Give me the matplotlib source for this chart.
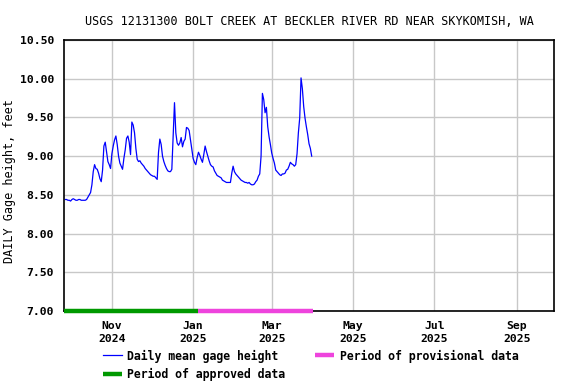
#!/usr/bin/env python3
"""USGS daily gage height hydrograph, Bolt Creek."""

import numpy as np
import pandas as pd
import matplotlib
matplotlib.use("Agg")
import matplotlib.pyplot as plt
import matplotlib.dates as mdates

start_date = "2024-09-27"
gage_height = [
    8.44, 8.44, 8.43, 8.43, 8.42, 8.44, 8.45, 8.44, 8.43, 8.43,
    8.44, 8.44, 8.43, 8.43, 8.43, 8.43, 8.44, 8.47, 8.50, 8.53,
    8.63, 8.80, 8.89, 8.84, 8.83, 8.78, 8.71, 8.67, 8.82, 9.13,
    9.18, 9.06, 8.93, 8.89, 8.84, 9.03, 9.13, 9.21, 9.26, 9.15,
    9.00, 8.91, 8.87, 8.83, 8.97, 9.08, 9.23, 9.26, 9.18, 9.02,
    9.44, 9.40, 9.30, 9.10, 8.96, 8.93, 8.94, 8.91, 8.89, 8.87,
    8.84, 8.82, 8.80, 8.78, 8.76, 8.75, 8.74, 8.74, 8.72, 8.70,
    9.05, 9.22, 9.15, 9.00, 8.93, 8.88, 8.84, 8.81, 8.80, 8.80,
    8.83, 9.25, 9.69, 9.30, 9.17, 9.14, 9.17, 9.24, 9.12, 9.19,
    9.22, 9.37, 9.36, 9.33, 9.21, 9.10, 8.97, 8.92, 8.89, 8.98,
    9.05, 9.01, 8.96, 8.92, 9.02, 9.13, 9.06, 9.00, 8.94, 8.89,
    8.87, 8.86, 8.81, 8.78, 8.75, 8.74, 8.73, 8.72, 8.69, 8.68,
    8.67, 8.66, 8.66, 8.66, 8.66, 8.78, 8.87, 8.80, 8.77, 8.75,
    8.73, 8.71, 8.69, 8.68, 8.67, 8.66, 8.66, 8.65, 8.66, 8.64,
    8.63, 8.63, 8.64, 8.67, 8.69, 8.74, 8.77, 9.00, 9.81, 9.73,
    9.56, 9.63, 9.38, 9.25, 9.15, 9.04, 8.97, 8.91, 8.82, 8.80,
    8.78, 8.76, 8.75, 8.77, 8.77, 8.78, 8.82, 8.83, 8.87, 8.92,
    8.90, 8.89, 8.87, 8.89, 9.03, 9.30, 9.49, 10.01, 9.87, 9.64,
    9.49, 9.38, 9.28, 9.16, 9.10, 9.00,
]

approved_period = ("2024-09-26", "2025-01-05")
provisional_period = ("2025-01-05", "2025-04-01")
x_range = ("2024-09-26", "2025-09-29")
y_ticks = [7.0, 7.5, 8.0, 8.5, 9.0, 9.5, 10.0, 10.5]


def main():
    plt.rcParams["font.family"] = "DejaVu Sans Mono"
    plt.rcParams["font.weight"] = "bold"
    plt.rcParams["font.size"] = 8.3

    dates = pd.date_range(start_date, periods=len(gage_height), freq="D")

    fig = plt.figure(figsize=(5.76, 3.84), dpi=100)
    ax = fig.add_axes([0.111, 0.190, 0.851, 0.706])

    ax.plot(dates, gage_height, color="#0000ff", lw=0.9,
            label="Daily mean gage height")
    ax.plot(pd.to_datetime(approved_period), [7.0, 7.0], color="#009900",
            lw=3.2, solid_capstyle="butt", clip_on=False, zorder=5,
            label="Period of approved data")
    ax.plot(pd.to_datetime(provisional_period), [7.0, 7.0], color="#ee44dd",
            lw=3.2, solid_capstyle="butt", clip_on=False, zorder=5,
            label="Period of provisional data")

    ax.set_xlim(pd.to_datetime(x_range))
    ax.set_ylim(7.0, 10.5)
    ax.set_yticks(y_ticks)
    ax.set_yticklabels([f"{v:.2f}" for v in y_ticks])
    ax.xaxis.set_major_locator(mdates.MonthLocator(bymonth=[1, 3, 5, 7, 9, 11]))
    ax.xaxis.set_major_formatter(mdates.DateFormatter("%b\n%Y"))
    ax.tick_params(length=0, labelsize=8.2)
    ax.tick_params(axis="x", pad=7)
    ax.tick_params(axis="y", pad=7)
    for lbl in ax.get_xticklabels():
        lbl.set_linespacing(1.45)
    ax.grid(True, color="#c8c8c8", lw=1)
    ax.set_axisbelow(True)
    for s in ax.spines.values():
        s.set_linewidth(1.2)

    ax.set_ylabel("DAILY Gage height, feet", fontsize=8.5)
    ax.yaxis.set_label_coords(-0.097, 0.48)
    ax.set_title("USGS 12131300 BOLT CREEK AT BECKLER RIVER RD NEAR SKYKOMISH, WA",
                 fontsize=8.5, pad=11)

    handles, labels = ax.get_legend_handles_labels()
    fig.legend(handles, labels, ncol=2, loc="upper left",
               bbox_to_anchor=(0.179, 0.090), frameon=False,
               handlelength=1.6, handletextpad=0.5, columnspacing=2.6,
               labelspacing=0.45, borderpad=0, borderaxespad=0)

    fig.savefig("out.png", dpi=100)


if __name__ == "__main__":
    main()
